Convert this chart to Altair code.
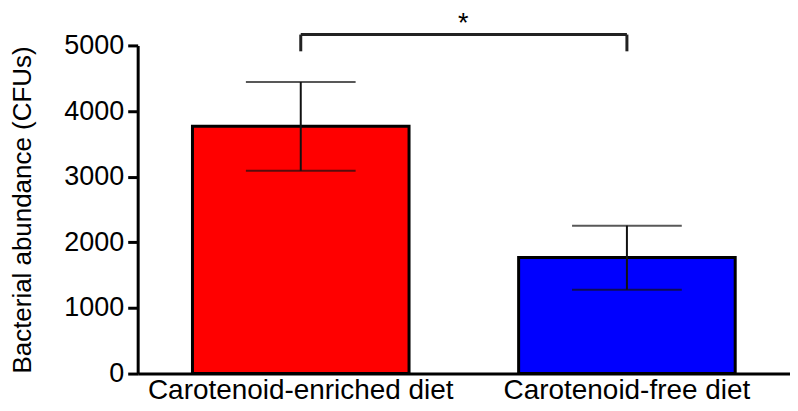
import altair as alt
import pandas as pd

categories = ["Carotenoid-enriched diet", "Carotenoid-free diet"]
means = [3770, 1770]
err_low = [3090, 1277]
err_high = [4442, 2254]
colors = ["#FF0000", "#0000FF"]
bracket_y = 5165
bracket_leg = 4910
star_y = 5320

df = pd.DataFrame({"cat": categories, "mean": means, "lo": err_low, "hi": err_high, "color": colors})
br = pd.DataFrame({"a": [categories[0]], "b": [categories[1]], "y": [bracket_y], "y0": [bracket_leg]})
legs = pd.DataFrame({"cat": categories, "y": [bracket_y] * 2, "y0": [bracket_leg] * 2})
star = pd.DataFrame({"cat": [categories[0]], "y": [star_y], "t": ["*"]})

FONT = "Liberation Sans"

xscale = alt.Scale(domain=categories, paddingInner=0.336, paddingOuter=0.168)
yscale = alt.Scale(domain=[0, 5000], nice=False)

x_axis = alt.Axis(title=None, labelAngle=0, labelFontSize=28, labelFont=FONT,
                  labelColor="black", ticks=False, domainColor="black",
                  domainWidth=3, labelPadding=3, labelLimit=500, grid=False)
y_axis = alt.Axis(title="Bacterial abundance (CFUs)", values=[0, 1000, 2000, 3000, 4000, 5000],
                  format="d",
                  titleFontSize=26, titleFont=FONT, titleFontWeight="normal",
                  titleColor="black", titlePadding=28, titleLimit=600,
                  labelFontSize=27, labelFont=FONT, labelColor="black",
                  tickColor="black", tickWidth=3, tickSize=10, labelPadding=4,
                  domainColor="black", domainWidth=3, grid=False)


def X(field):
    return alt.X(field, type="nominal", scale=xscale, sort=categories, axis=x_axis, title=None)


def Y(field):
    return alt.Y(field, type="quantitative", scale=yscale, axis=y_axis, title="Bacterial abundance (CFUs)")


bars = alt.Chart(df).mark_bar(stroke="black", strokeWidth=3).encode(
    x=X("cat"), y=Y("mean"), color=alt.Color("color:N", scale=None))

rule = alt.Chart(df).mark_rule(color="#111", strokeWidth=2).encode(
    x=X("cat"), y=Y("lo"), y2="hi:Q")
cap_hi = alt.Chart(df).mark_tick(color="#111", thickness=2, size=110, orient="horizontal").encode(
    x=X("cat"), y=Y("hi"))
cap_lo = alt.Chart(df).mark_tick(color="#111", thickness=2, size=110, orient="horizontal").encode(
    x=X("cat"), y=Y("lo"))

bh = alt.Chart(br).mark_rule(color="#222", strokeWidth=3).encode(
    x=X("a"), x2="b:N", y=Y("y"))
bl = alt.Chart(legs).mark_rule(color="#222", strokeWidth=3).encode(
    x=X("cat"), y=Y("y"), y2="y0:Q")
st = alt.Chart(star).mark_text(font=FONT, fontSize=27, color="black", baseline="middle", dx=163).encode(
    x=X("cat"), y=Y("y"), text="t:N")

chart = alt.layer(bars, rule, cap_hi, cap_lo, bh, bl, st).properties(
    width=654, height=329,
    background="white",
    autosize=alt.AutoSizeParams(type="none"),
    padding={"left": 130, "top": 37, "right": 0, "bottom": 30},
).configure_view(strokeWidth=0, stroke="transparent").configure_axis(grid=False)

chart.save("out.html", embed_options={"renderer": "svg", "actions": False})
